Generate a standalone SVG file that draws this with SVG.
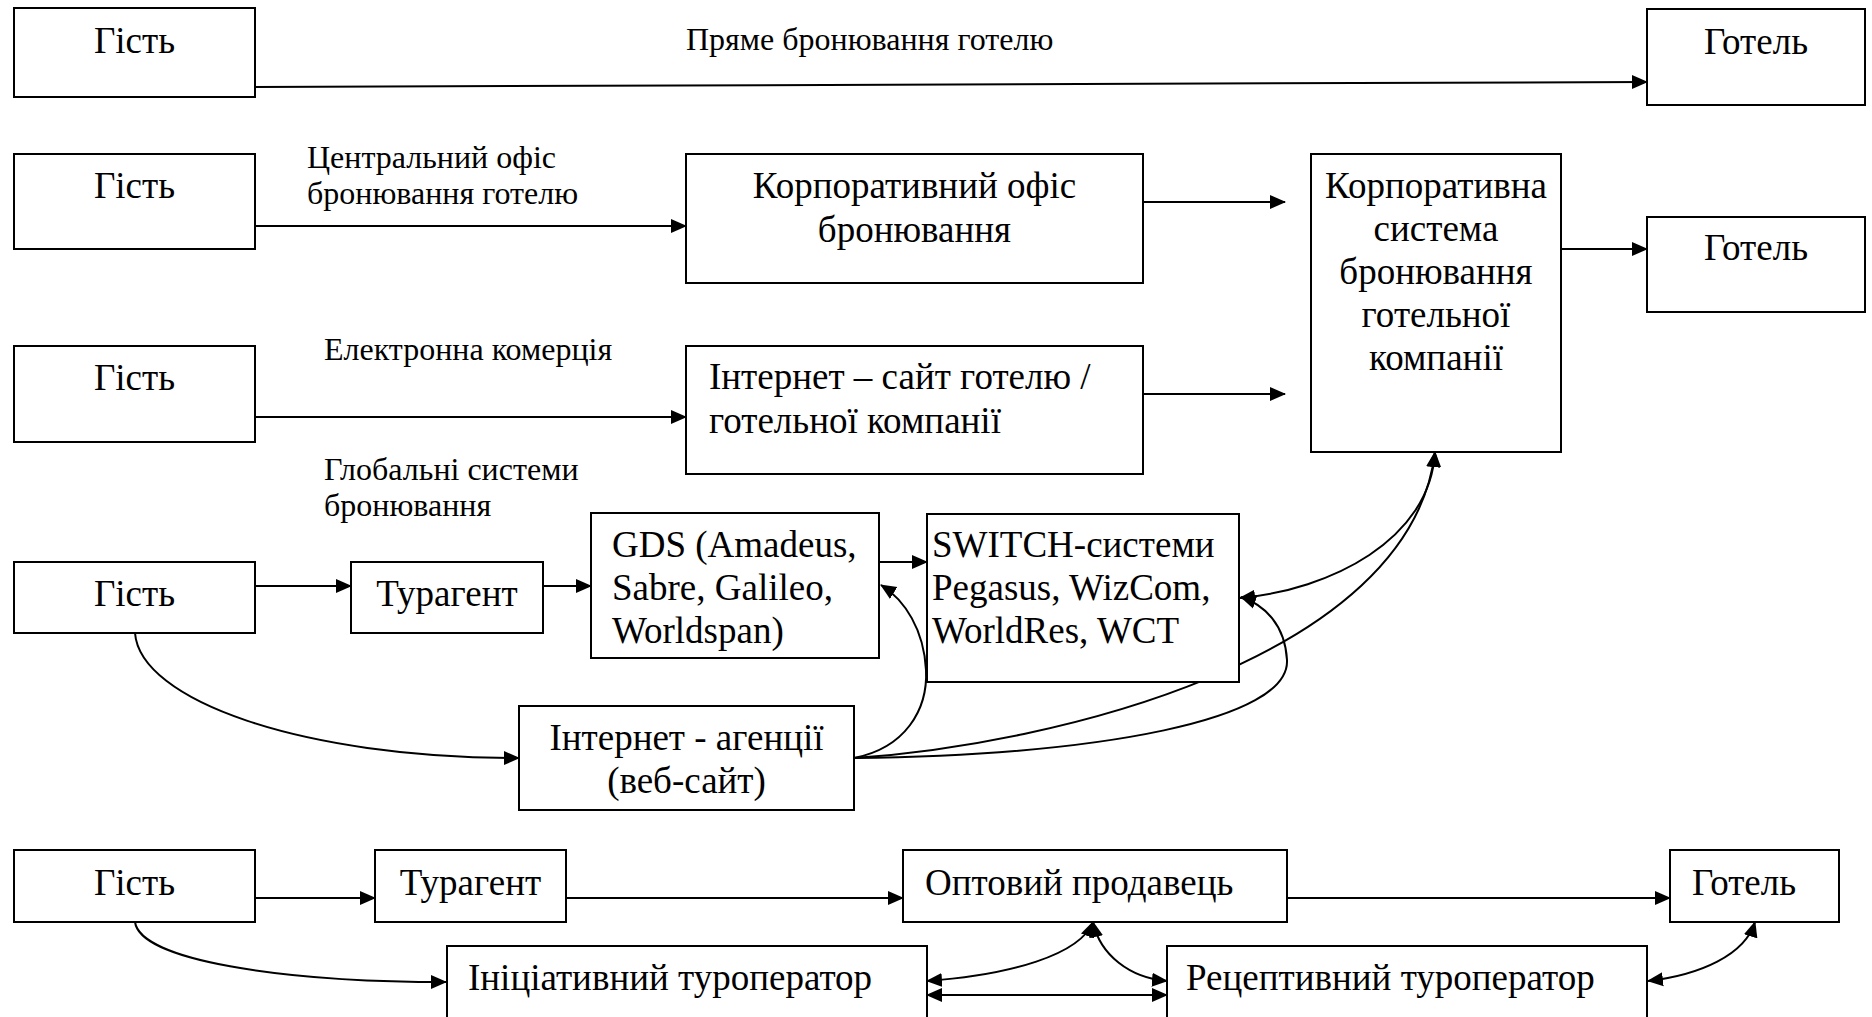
<svg xmlns="http://www.w3.org/2000/svg" width="1872" height="1017" viewBox="0 0 1872 1017">
<style>
.box{fill:#fff;stroke:#000;stroke-width:2}
.t{font-family:"Liberation Serif","Times New Roman",serif;font-size:37px;fill:#000}
.c{text-anchor:middle}
.lbl{font-family:"Liberation Serif","Times New Roman",serif;font-size:32px;fill:#000}
.ln{fill:none;stroke:#000;stroke-width:2}
.a{marker-end:url(#ah)}
.b{marker-start:url(#ah);marker-end:url(#ah)}
</style>
<defs>
<marker id="ah" markerUnits="userSpaceOnUse" markerWidth="16" markerHeight="16" viewBox="0 0 16 16" refX="15" refY="8" orient="auto-start-reverse">
<path d="M0,1 L16,8 L0,15 z" fill="#000"/>
</marker>
</defs>
<rect width="1872" height="1017" fill="#fff"/>

<g id="connectors">
<path class="ln a" d="M255 87 L1647 82"/>
<path class="ln a" d="M255 226 L686 226"/>
<path class="ln a" d="M1143 202 L1285 202"/>
<path class="ln a" d="M1551 249 L1647 249"/>
<path class="ln a" d="M255 417 L686 417"/>
<path class="ln a" d="M1143 394 L1285 394"/>
<path class="ln a" d="M255 586 L351 586"/>
<path class="ln a" d="M543 586 L591 586"/>
<path class="ln a" d="M879 562 L927 562"/>
<path class="ln a" d="M135 633 C140 700 300 758 519 758"/>
<path class="ln a" d="M854 758 C905 748 928 710 926 670 C924 630 905 600 881 585"/>
<path class="ln a" d="M854 758 C1100 755 1290 720 1287 660 C1285 625 1265 605 1241 597"/>
<path class="ln a" d="M854 758 C1050 745 1410 660 1435 452"/>
<path class="ln b" d="M1435 452 C1430 540 1330 590 1240 598"/>
<path class="ln a" d="M255 898 L375 898"/>
<path class="ln a" d="M566 898 L903 898"/>
<path class="ln a" d="M1287 898 L1670 898"/>
<path class="ln a" d="M135 922 C140 960 280 982 446 982"/>
<path class="ln b" d="M927 981 C1010 975 1080 955 1093 922"/>
<path class="ln b" d="M1093 922 C1100 955 1130 978 1167 981"/>
<path class="ln b" d="M927 995 L1167 995"/>
<path class="ln b" d="M1648 981 C1700 975 1745 955 1755 922"/>
</g>

<g id="labels">
<text class="lbl" x="686" y="50">Пряме бронювання готелю</text>
<text class="lbl" x="307" y="168">Центральний офіс</text>
<text class="lbl" x="307" y="204">бронювання готелю</text>
<text class="lbl" x="324" y="360">Електронна комерція</text>
<text class="lbl" x="324" y="480">Глобальні системи</text>
<text class="lbl" x="324" y="516">бронювання</text>
</g>

<g id="guest1"><rect class="box" x="14" y="8" width="241" height="89"/><text class="t c" x="134.5" y="53">Гість</text></g>
<g id="hotel1"><rect class="box" x="1647" y="9" width="218" height="96"/><text class="t c" x="1756" y="54">Готель</text></g>

<g id="guest2"><rect class="box" x="14" y="154" width="241" height="95"/><text class="t c" x="134.5" y="198">Гість</text></g>
<g id="corp-office"><rect class="box" x="686" y="154" width="457" height="129"/><text class="t c" x="914.5" y="198">Корпоративний офіс</text><text class="t c" x="914.5" y="242">бронювання</text></g>
<g id="corp-system"><rect class="box" x="1311" y="154" width="250" height="298"/>
<text class="t c" x="1436" y="198">Корпоративна</text>
<text class="t c" x="1436" y="241">система</text>
<text class="t c" x="1436" y="284">бронювання</text>
<text class="t c" x="1436" y="327">готельної</text>
<text class="t c" x="1436" y="370">компанії</text></g>
<g id="hotel2"><rect class="box" x="1647" y="217" width="218" height="95"/><text class="t c" x="1756" y="260">Готель</text></g>

<g id="guest3"><rect class="box" x="14" y="346" width="241" height="96"/><text class="t c" x="134.5" y="390">Гість</text></g>
<g id="hotel-site"><rect class="box" x="686" y="346" width="457" height="128"/><text class="t" x="709" y="389">Інтернет – сайт готелю /</text><text class="t" x="709" y="433">готельної компанії</text></g>

<g id="guest4"><rect class="box" x="14" y="562" width="241" height="71"/><text class="t c" x="134.5" y="606">Гість</text></g>
<g id="agent1"><rect class="box" x="351" y="562" width="192" height="71"/><text class="t c" x="447" y="606">Турагент</text></g>
<g id="gds"><rect class="box" x="591" y="513" width="288" height="145"/><text class="t" x="612" y="557">GDS (Amadeus,</text><text class="t" x="612" y="600">Sabre, Galileo,</text><text class="t" x="612" y="643">Worldspan)</text></g>
<g id="switch"><rect class="box" x="927" y="514" width="312" height="168"/><text class="t" x="932" y="557">SWITCH-системи</text><text class="t" x="932" y="600">Pegasus, WizCom,</text><text class="t" x="932" y="643">WorldRes, WCT</text></g>
<g id="web-agency"><rect class="box" x="519" y="706" width="335" height="104"/><text class="t c" x="686.5" y="750">Інтернет - агенції</text><text class="t c" x="686.5" y="793">(веб-сайт)</text></g>

<g id="guest5"><rect class="box" x="14" y="850" width="241" height="72"/><text class="t c" x="134.5" y="895">Гість</text></g>
<g id="agent2"><rect class="box" x="375" y="850" width="191" height="72"/><text class="t c" x="470.5" y="895">Турагент</text></g>
<g id="wholesaler"><rect class="box" x="903" y="850" width="384" height="72"/><text class="t" x="925" y="895">Оптовий продавець</text></g>
<g id="hotel3"><rect class="box" x="1670" y="850" width="169" height="72"/><text class="t" x="1692" y="895">Готель</text></g>
<g id="outbound-operator"><rect class="box" x="447" y="946" width="480" height="90"/><text class="t" x="468" y="990">Ініціативний туроператор</text></g>
<g id="inbound-operator"><rect class="box" x="1167" y="946" width="480" height="90"/><text class="t" x="1186" y="990">Рецептивний туроператор</text></g>
</svg>
